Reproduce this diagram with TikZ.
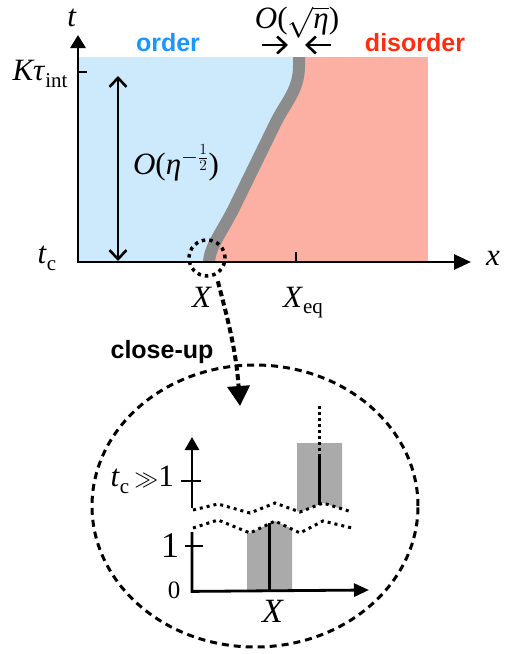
\RequirePackage{fix-cm}
\documentclass[tikz,border=0pt]{standalone}
\usepackage{fontspec}
\setmainfont{Liberation Serif}
\newfontfamily\hel{Liberation Sans}
\usetikzlibrary{arrows.meta}
\definecolor{ordbg}{RGB}{205,234,252}
\definecolor{disbg}{RGB}{252,176,164}
\definecolor{ordtx}{RGB}{25,150,255}
\definecolor{distx}{RGB}{255,45,15}
\definecolor{bandc}{RGB}{140,140,140}
\definecolor{boxg}{RGB}{170,170,170}
\newcommand\mysub[1]{\raisebox{-0.22em}{\fontsize{21}{21}\selectfont #1}}
\begin{document}
\begin{tikzpicture}[x=1pt,y=-1pt,
  axisline/.style={line width=2.8pt},
  lbl/.style={inner sep=0pt,font=\fontsize{31}{34}\selectfont},
  sanslbl/.style={inner sep=0pt,font=\hel\bfseries\fontsize{25}{28}\selectfont},
  openarrow/.style={line width=2.6pt,-{Straight Barb[length=9pt,width=17pt]}},
  dotline/.style={line width=3pt,dash pattern=on 3pt off 4pt},
]
\useasboundingbox (0,0) rectangle (528,654);
% regions
\fill[disbg] (200,57) rectangle (428,262);
\fill[ordbg] (78,57) -- (299,57) -- (299,66) .. controls (299,90) and (286,102) .. (276,122)
  -- (234,208) .. controls (222,232) and (210,246) .. (209,262) -- (78,262) -- cycle;
\draw[bandc,line width=12pt] (299,57) -- (299,66) .. controls (299,90) and (286,102) .. (276,122)
  -- (234,208) .. controls (222,232) and (210,246) .. (209,262);
% axes
\coordinate (O) at (78,262);
\coordinate (ttop) at (78,35);
\coordinate (xend) at (471,262);
\draw[axisline,-{Triangle[length=13pt,width=15pt]}] (78,263.4) -- (ttop);
\draw[axisline,-{Triangle[length=17pt,width=15pt]}] (76.6,262) -- (xend);
\coordinate (kt) at (78,72); \coordinate (kt2) at (87,72);
\draw[axisline] (kt) -- (kt2);
\coordinate (xq) at (296,262); \coordinate (xq2) at (296,252);
\draw[axisline] (xq) -- (xq2);
% labels
\node[lbl] (tl) at (72,18) {\textit{t}};
\node[lbl] (xl) at (493,258) {\textit{x}};
\node[lbl] (ktl) at (40,74) {\textit{Kτ}\mysub{int}};
\node[lbl] (tcl) at (47,258) {\textit{t}\mysub{c}};
\node[lbl,anchor=base] (Xl) at (202,307) {\textit{X}};
\node[lbl,anchor=base west] (Xeql) at (283,307) {\textit{X}\mysub{eq}};
\node[sanslbl,text=ordtx] (ord) at (168,43) {order};
\node[sanslbl,text=distx] (dis) at (415,43) {disorder};
\node[lbl,anchor=base] (osq) at (297,28) {\textit{O}($\sqrt{\hbox{\itshape η}}$)};
\node[lbl] (oeta) at (176,163) {\textit{O}(\textit{η}$^{-\frac{1}{2}}$)};
% width arrows
\coordinate (la) at (262,45); \coordinate (lb) at (288,45);
\coordinate (ra) at (331,45); \coordinate (rb) at (305,45);
\draw[openarrow] (la) -- (lb);
\draw[openarrow] (ra) -- (rb);
% double arrow
\coordinate (da) at (118,76); \coordinate (db) at (118,261);
\draw[line width=2.6pt,{Straight Barb[length=9pt,width=17pt]}-{Straight Barb[length=9pt,width=17pt]}] (da) -- (db);
% dotted circle
\node[circle,draw,minimum size=36pt,line width=3.5pt,dash pattern=on 3.5pt off 4pt,inner sep=0pt] (cir) at (207,258) {};
% close-up arrow
\coordinate (ctip) at (240,406);
\draw[line width=4pt,dash pattern=on 6pt off 3.5pt,shorten <=6pt,-{Triangle[length=20pt,width=22pt]}]
  (cir.-62) .. controls (228,320) and (236,350) .. (ctip);
\node[sanslbl,text=black] (cu) at (162,352) {close-up};
% ellipse
\draw[line width=3pt,dash pattern=on 7pt off 5pt] (255,506) ellipse [x radius=163pt, y radius=141pt];
% close-up plot: gray boxes
\fill[boxg] (247,590) -- (247,532) -- (250,533) -- (275,521) -- (292,529) -- (292,590) -- cycle;
\fill[boxg] (297,443) -- (342,443) -- (342,509) -- (323,503) -- (300,512) -- (297,511) -- cycle;
% wavy breaks
\draw[dotline] (193,510) -- (218,504) -- (250,513) -- (275,503) -- (300,512) -- (323,503) -- (352,512);
\draw[dotline] (193,528) -- (218,520) -- (250,533) -- (275,521) -- (300,533) -- (323,521) -- (352,528);
% close-up axes
\coordinate (c0) at (192,590);
\coordinate (cyl) at (192,532);
\coordinate (cxe) at (369,590);
\coordinate (cyu) at (192,508);
\coordinate (cyt) at (192,437);
\draw[axisline,-{Triangle[length=15pt,width=13pt]}] (cyl) -- (192,591.4) -- (cxe);
\draw[axisline,-{Triangle[length=13pt,width=14pt]}] (cyu) -- (cyt);
\coordinate (t1a) at (185,546); \coordinate (t1b) at (203,546);
\draw[line width=2.4pt] (t1a) -- (t1b);
\coordinate (t2a) at (181,481); \coordinate (t2b) at (201,481);
\draw[line width=2.4pt] (t2a) -- (t2b);
% black bars
\coordinate (b1a) at (269,590); \coordinate (b1b) at (269,523);
\draw[line width=3pt] (b1a) -- (b1b);
\coordinate (b2a) at (319,505); \coordinate (b2b) at (319,457); \coordinate (b2c) at (319,404);
\draw[line width=3pt] (b2a) -- (b2b);
\draw[line width=3pt,dash pattern=on 3pt off 3pt] (b2b) -- (b2c);
% close-up labels
\node[lbl,anchor=east] (tcg) at (174,480) {\textit{t}\mysub{c}\,{\fontsize{24}{24}\selectfont$\gg$}1};
\node[lbl,font=\fontsize{36}{38}\selectfont] (one) at (170,546) {1};
\node[lbl,font=\fontsize{25}{28}\selectfont] (zero) at (174,590) {0};
\node[lbl,font=\fontsize{34}{36}\selectfont] (Xc) at (273,611) {\textit{X}};
\end{tikzpicture}
\end{document}
